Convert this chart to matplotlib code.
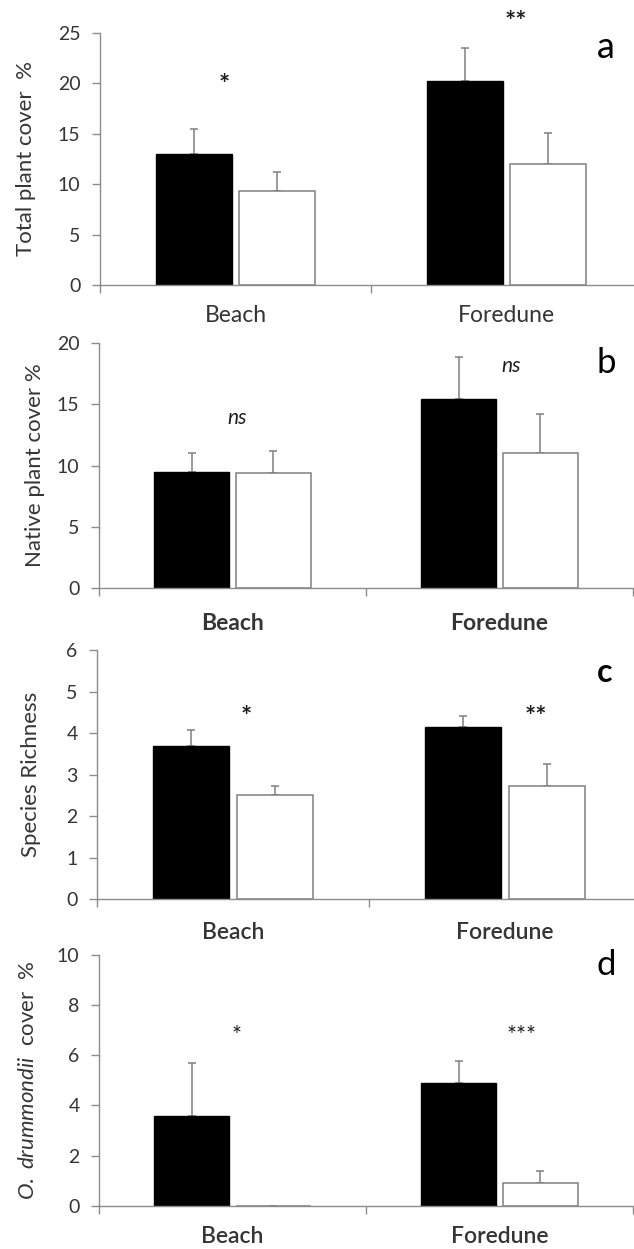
import matplotlib
matplotlib.use('Agg')
import matplotlib.pyplot as plt
import numpy as np

plt.rcParams['font.family'] = ['Lato', 'DejaVu Sans']
plt.rcParams['mathtext.fontset'] = 'custom'
plt.rcParams['mathtext.rm'] = 'Lato'
plt.rcParams['mathtext.it'] = 'Lato:italic'

# categories and series (black = first group, white = second group)
sites = ['Beach', 'Foredune']

total_black = [13.0, 20.2]
total_black_err = [2.5, 3.3]
total_white = [9.3, 12.0]
total_white_err = [1.9, 3.1]

native_black = [9.45, 15.4]
native_black_err = [1.55, 3.4]
native_white = [9.35, 11.0]
native_white_err = [1.85, 3.2]

rich_black = [3.69, 4.14]
rich_black_err = [0.39, 0.28]
rich_white = [2.50, 2.73]
rich_white_err = [0.23, 0.53]

odr_black = [3.58, 4.88]
odr_black_err = [2.11, 0.88]
odr_white = [0.0, 0.90]
odr_white_err = [0.0, 0.50]

# significance marks: (text, x, y)
sig_a = [('*', 0.46, 20.7), ('**', 1.535, 26.9)]
sig_b = [('ns', 0.517, 14.0), ('ns', 1.543, 18.3)]
sig_c = [('*', 0.548, 4.6), ('**', 1.614, 4.6)]
sig_d = [('*', 0.517, 7.1), ('***', 1.584, 7.1)]

AX_GRAY = '#8c8c8c'
TXT = '#353535'

panels = [
    dict(rect=[0.1577, 0.7718, 0.855, 0.2018], black=total_black, berr=total_black_err,
         white=total_white, werr=total_white_err, ymax=25, step=5,
         ylabel='Total plant cover  %', ylx=-0.137, sig=sig_a, sigstyle=('normal', 'bold', 19),
         letter='a', lpos=(0.934, 0.944), lsize=26, lweight='normal', catw='normal', catpad=14.5),
    dict(rect=[0.1562, 0.5290, 0.842, 0.1966], black=native_black, berr=native_black_err,
         white=native_white, werr=native_white_err, ymax=20, step=5,
         ylabel='Native plant cover %', ylx=-0.12, sig=sig_b, sigstyle=('italic', 'normal', 15),
         letter='b', lpos=(0.951, 0.917), lsize=25, lweight='normal', catw='bold', catpad=18.0),
    dict(rect=[0.1530, 0.2800, 0.858, 0.1996], black=rich_black, berr=rich_black_err,
         white=rich_white, werr=rich_white_err, ymax=6, step=1,
         ylabel='Species Richness', ylx=-0.121, sig=sig_c, sigstyle=('normal', 'bold', 19),
         letter='c', lpos=(0.934, 0.908), lsize=23, lweight='bold', catw='semibold', catpad=16.0),
    dict(rect=[0.1562, 0.0347, 0.842, 0.2007], black=odr_black, berr=odr_black_err,
         white=odr_white, werr=odr_white_err, ymax=10, step=2,
         ylabel=r'$\it{O.\ drummondii}$  cover  %', ylx=-0.133, sig=sig_d, sigstyle=('normal', 'normal', 17),
         letter='d', lpos=(0.951, 0.96), lsize=25, lweight='normal', catw='semibold', catpad=14.5),
]

fig = plt.figure(figsize=(6.34, 12.49), dpi=100)

x = np.arange(len(sites)) + 0.5
w = 0.28
off = 0.153

for p in panels:
    ax = fig.add_axes(p['rect'])
    # error bars go under the bars so only the upper whisker shows
    ekw = dict(ecolor='#808080', elinewidth=1.1, capsize=3, capthick=1.1, zorder=1)
    ax.bar(x - off, p['black'], w, color='black', edgecolor='black', linewidth=1.0,
           yerr=[np.zeros(2), p['berr']], error_kw=ekw, zorder=2)
    ax.bar(x + off, p['white'], w, color='white', edgecolor='#808080', linewidth=1.1,
           yerr=[np.zeros(2), p['werr']], error_kw=ekw, zorder=2)

    ax.set_xlim(0, 2)
    ax.set_ylim(0, p['ymax'])
    ax.set_yticks(np.arange(0, p['ymax'] + 0.1, p['step']))
    ax.set_xticks([0, 1, 2])
    ax.set_xticklabels([])
    ax.set_xticks(x, minor=True)
    ax.set_xticklabels(sites, minor=True, fontsize=16.5, fontweight=p['catw'], color=TXT)
    ax.tick_params(axis='x', which='minor', length=0, pad=p['catpad'])
    ax.tick_params(axis='x', which='major', direction='out', length=6, width=1.0, color=AX_GRAY)
    ax.tick_params(axis='y', direction='out', length=6, width=1.0, color=AX_GRAY,
                   labelsize=14, labelcolor=TXT, pad=8)

    for s in ['top', 'right']:
        ax.spines[s].set_visible(False)
    for s in ['left', 'bottom']:
        ax.spines[s].set_color(AX_GRAY)
        ax.spines[s].set_linewidth(1.0)
        ax.spines[s].set_zorder(3)

    ax.set_ylabel(p['ylabel'], fontsize=16, color=TXT, va='center')
    ax.yaxis.set_label_coords(p['ylx'], 0.5)

    style, weight, size = p['sigstyle']
    for txt, sx, sy in p['sig']:
        # asterisks sit high in the glyph box, so shift them down to centre the ink
        dy = -1.5 if style == 'italic' else -0.32 * size
        ax.annotate(txt, (sx, sy), xytext=(0, dy), textcoords='offset points',
                    ha='center', va='center', fontsize=size, style=style,
                    fontweight=weight, color='#1e1e1e', annotation_clip=False)

    ax.text(p['lpos'][0], p['lpos'][1], p['letter'], transform=ax.transAxes,
            ha='center', va='center', fontsize=p['lsize'], fontweight=p['lweight'],
            color='black')

fig.savefig('out.png', dpi=100)
